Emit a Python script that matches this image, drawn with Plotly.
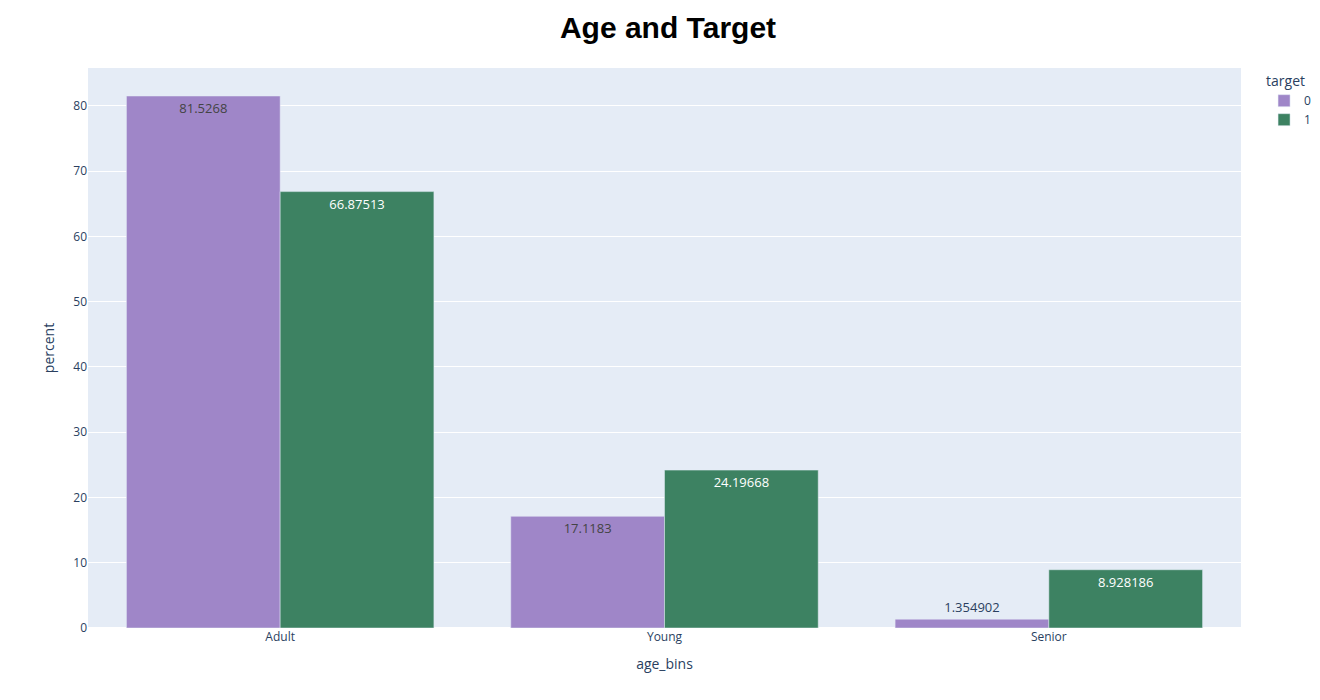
import pandas as pd
import plotly.express as px

# Age bins vs target (percent within each target group)
age_bins = ["Adult", "Young", "Senior"]
target0 = [81.5268, 17.1183, 1.354902]
target1 = [66.87513, 24.19668, 8.928186]
labels0 = ["81.5268", "17.1183", "1.354902"]
labels1 = ["66.87513", "24.19668", "8.928186"]

df = pd.DataFrame({
    "age_bins": age_bins * 2,
    "percent": target0 + target1,
    "target": ["0"] * 3 + ["1"] * 3,
    "label": labels0 + labels1,
})

fig = px.bar(df, x="age_bins", y="percent", color="target", text="label",
             barmode="group",
             color_discrete_sequence=["#9f86c8", "#3d8262"])

fig.update_traces(textposition="auto", textfont_size=13)
fig.update_layout(
    title=dict(text="<b>Age and Target</b>", x=0.5, xanchor="center",
               font=dict(family="Arial", size=30, color="black")),
    legend_title="target",
    width=1320, height=700,
)
fig.write_html("out.html")
